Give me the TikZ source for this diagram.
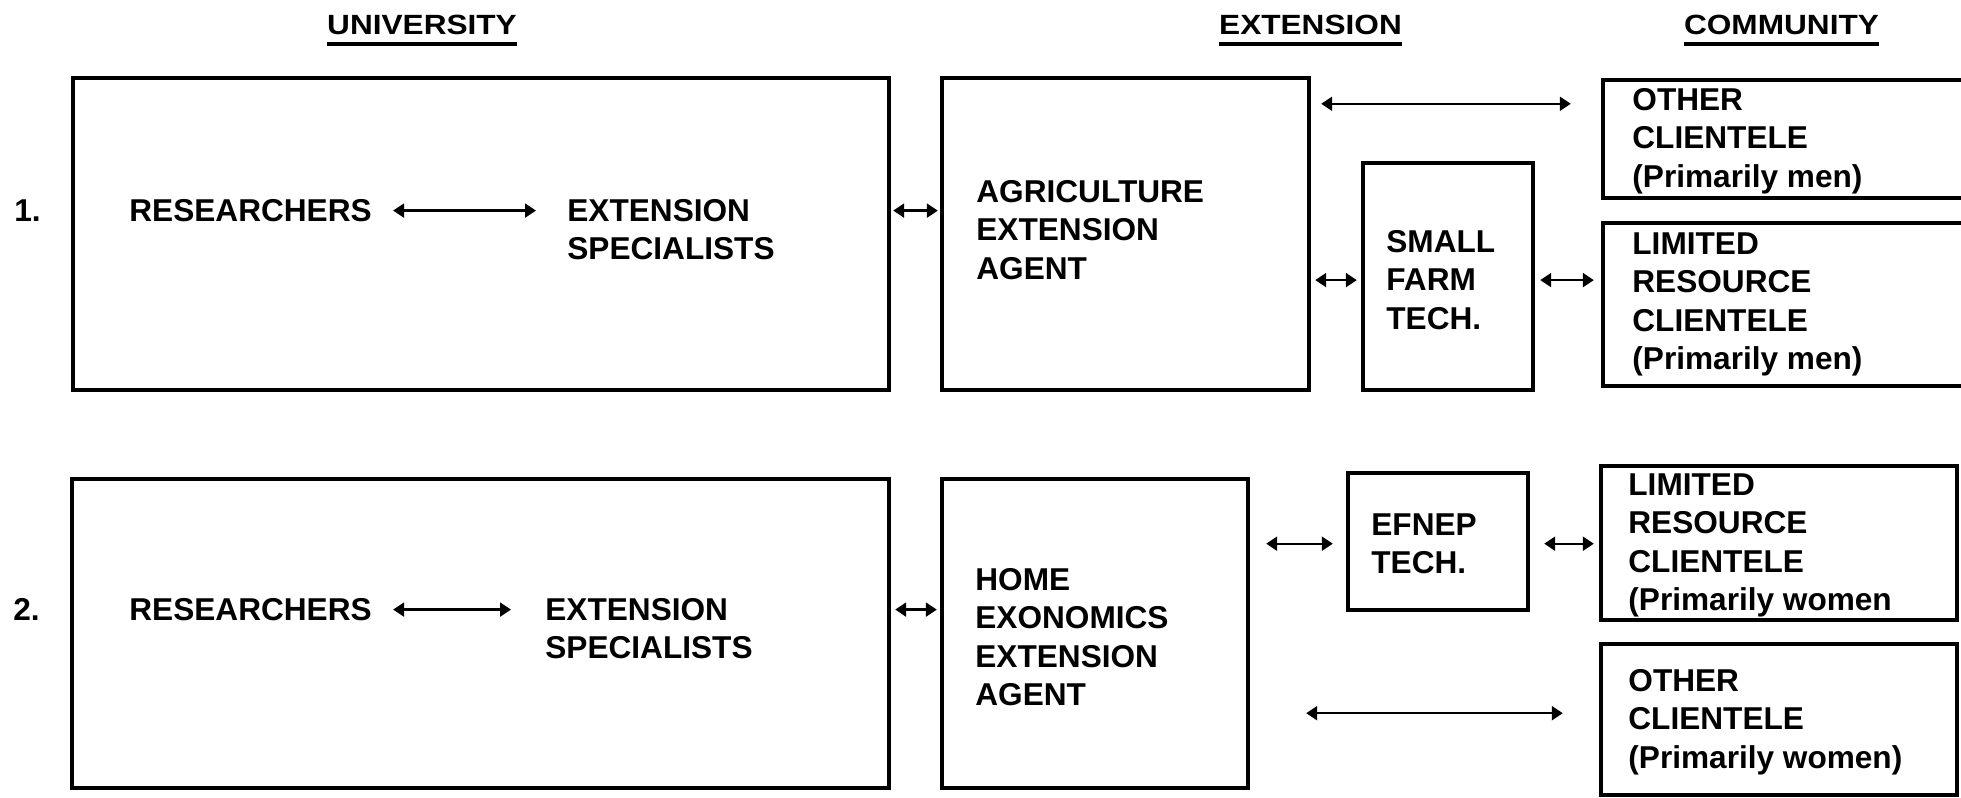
\documentclass[tikz,border=0pt]{standalone}
\usepackage{fontspec}
\setmainfont{Liberation Sans}
\usetikzlibrary{arrows.meta}

\tikzset{
  txt/.style={font=\bfseries\fontsize{15.8pt}{19.25pt}\selectfont, inner sep=0pt, align=left, anchor=north west},
  hdr/.style={font=\bfseries\fontsize{15.8pt}{19.25pt}\selectfont, inner sep=0pt, anchor=base},
  box/.style={draw, line width=2.2pt, inner sep=0pt},
  link/.style={{Triangle[length=5.5pt,width=7pt]}-{Triangle[length=5.5pt,width=7pt]}, line width=1.1pt},
  uline/.style={line width=2.2pt}
}

\begin{document}
\begin{tikzpicture}[x=0.5pt,y=-0.5pt]
\useasboundingbox (0,0) rectangle (1961,798);
\clip (0,0) rectangle (1961,798);

% column headings
\node[hdr] (hu) at (422,34) {\scalebox{1}[0.88]{UNIVERSITY}};
\node[hdr] (he) at (1310.5,34) {\scalebox{1}[0.88]{EXTENSION}};
\node[hdr] (hc) at (1781.5,34) {\scalebox{1}[0.88]{COMMUNITY}};
\foreach \h in {hu,he,hc}
  \draw[uline] ([yshift=-5pt]\h.base west) -- ([yshift=-5pt]\h.base east);

% ---------- row 1: agriculture ----------
\node[box, minimum width=408pt, minimum height=156pt] (u1) at (481,234) {};
\node[box, minimum width=183.5pt, minimum height=156pt] (a1) at (1125.5,234) {};
\node[box, minimum width=85pt, minimum height=113.5pt] (sf) at (1448,276.5) {};
\node[box, minimum width=198.5pt, minimum height=59pt] (oc1) at (1801.5,139) {};
\node[box, minimum width=198.5pt, minimum height=81.5pt] (lr1) at (1801.5,304.5) {};

\node[txt] (n1) at (14,199) {1.};
\node[txt] (res1) at (129,199) {RESEARCHERS};
\node[txt] (spec1) at (567,199) {EXTENSION\\SPECIALISTS};
\node[txt] (agt1) at (976,180) {AGRICULTURE\\EXTENSION\\AGENT};
\node[txt] (sft) at (1386,230) {SMALL\\FARM\\TECH.};
\node[txt] (oct1) at (1632,88) {OTHER\\CLIENTELE\\(Primarily men)};
\node[txt] (lrt1) at (1632,232) {LIMITED\\RESOURCE\\CLIENTELE\\(Primarily men)};

\draw[link, shorten <=10.5pt, shorten >=15.5pt] (res1.east) -- (spec1.west |- res1.east);
\draw[link, shorten <=1pt, shorten >=1pt] (u1.east |- res1.east) -- (a1.west |- res1.east);
\coordinate (t1) at ([yshift=-14pt]a1.north east);
\draw[link, shorten <=5pt, shorten >=15pt] (t1) -- (oc1.west |- t1);
\draw[link, shorten <=2pt, shorten >=2pt] (a1.east |- sft.west) -- (sf.west |- sft.west);
\draw[link, shorten <=2.5pt, shorten >=3.5pt] (sf.east |- sft.west) -- (lr1.west |- sft.west);

% ---------- row 2: home economics ----------
\node[box, minimum width=408.5pt, minimum height=154.5pt] (u2) at (480.5,633.5) {};
\node[box, minimum width=153pt, minimum height=154.5pt] (h2) at (1095,633.5) {};
\node[box, minimum width=90pt, minimum height=68.5pt] (ef) at (1438,541.5) {};
\node[box, minimum width=178pt, minimum height=77pt] (lr2) at (1779,543) {};
\node[box, minimum width=178pt, minimum height=75.5pt] (oc2) at (1779,719.5) {};

\node[txt] (n2) at (13,598) {2.};
\node[txt] (res2) at (129,598) {RESEARCHERS};
\node[txt] (spec2) at (545,598) {EXTENSION\\SPECIALISTS};
\node[txt] (hmt) at (975,568) {HOME\\EXONOMICS\\EXTENSION\\AGENT};
\node[txt] (eft) at (1371,513) {EFNEP\\TECH.};
\node[txt] (lrt2) at (1628,473) {LIMITED\\RESOURCE\\CLIENTELE\\(Primarily women};
\node[txt] (oct2) at (1628,669) {OTHER\\CLIENTELE\\(Primarily women)};

\draw[link, shorten <=10.5pt, shorten >=17pt] (res2.east) -- (spec2.west |- res2.east);
\draw[link, shorten <=2pt, shorten >=1.5pt] (u2.east |- res2.east) -- (h2.west |- res2.east);
\draw[link, shorten <=8pt, shorten >=6.5pt] (h2.east |- eft.west) -- (ef.west |- eft.west);
\draw[link, shorten <=7pt, shorten >=2.5pt] (ef.east |- eft.west) -- (lr2.west |- eft.west);
\coordinate (b2) at ([yshift=38.5pt]h2.south east);
\draw[link, shorten <=28pt, shorten >=18pt] (b2) -- (oc2.west |- b2);
\end{tikzpicture}
\end{document}
